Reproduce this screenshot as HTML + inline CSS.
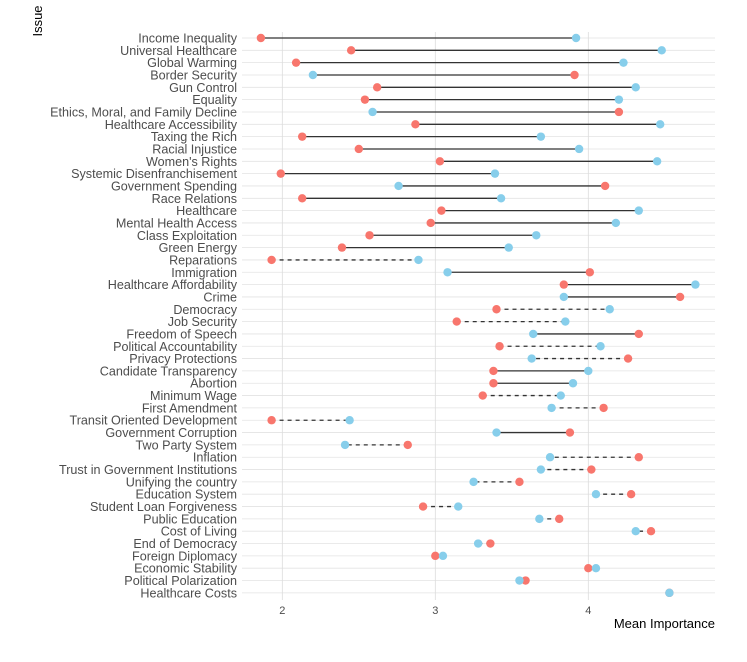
<!DOCTYPE html>
<html><head><meta charset="utf-8"><style>body{margin:0;background:#fff}svg{display:block;font-family:"Liberation Sans",sans-serif}</style></head>
<body>
<svg id="c" width="747" height="662"></svg>
<script>
const categories=["Income Inequality","Universal Healthcare","Global Warming","Border Security","Gun Control","Equality","Ethics, Moral, and Family Decline","Healthcare Accessibility","Taxing the Rich","Racial Injustice","Women's Rights","Systemic Disenfranchisement","Government Spending","Race Relations","Healthcare","Mental Health Access","Class Exploitation","Green Energy","Reparations","Immigration","Healthcare Affordability","Crime","Democracy","Job Security","Freedom of Speech","Political Accountability","Privacy Protections","Candidate Transparency","Abortion","Minimum Wage","First Amendment","Transit Oriented Development","Government Corruption","Two Party System","Inflation","Trust in Government Institutions","Unifying the country","Education System","Student Loan Forgiveness","Public Education","Cost of Living","End of Democracy","Foreign Diplomacy","Economic Stability","Political Polarization","Healthcare Costs"];
const redValues=[1.86,2.45,2.09,3.91,2.62,2.54,4.20,2.87,2.13,2.50,3.03,1.99,4.11,2.13,3.04,2.97,2.57,2.39,1.93,4.01,3.84,4.60,3.40,3.14,4.33,3.42,4.26,3.38,3.38,3.31,4.10,1.93,3.88,2.82,4.33,4.02,3.55,4.28,2.92,3.81,4.41,3.36,3.00,4.00,3.59,4.53];
const blueValues=[3.92,4.48,4.23,2.20,4.31,4.20,2.59,4.47,3.69,3.94,4.45,3.39,2.76,3.43,4.33,4.18,3.66,3.48,2.89,3.08,4.70,3.84,4.14,3.85,3.64,4.08,3.63,4.00,3.90,3.82,3.76,2.44,3.40,2.41,3.75,3.69,3.25,4.05,3.15,3.68,4.31,3.28,3.05,4.05,3.55,4.53];
const dashed=[0,0,0,0,0,0,0,0,0,0,0,0,0,0,0,0,0,0,1,0,0,0,1,1,0,1,1,0,0,1,1,1,0,1,1,1,1,1,1,1,1,1,1,1,1,1];
const xTicks=[2,3,4];
const NS="http://www.w3.org/2000/svg",svg=document.getElementById('c');
const x=v=>282.3+(v-2)*153;
const y=i=>38+i*12.33;
function mk(t,a,p){const e=document.createElementNS(NS,t);for(const k in a)e.setAttribute(k,a[k]);(p||svg).appendChild(e);return e;}
const g=mk('g',{});

categories.forEach((c,i)=>{mk('line',{x1:242,x2:715,y1:y(i),y2:y(i),stroke:'#e3e3e3','stroke-width':0.8},g);});
xTicks.forEach(t=>{mk('line',{x1:x(t),x2:x(t),y1:32,y2:600,stroke:'#dcdcdc','stroke-width':0.8},g);
const tl=mk('text',{x:x(t),y:614,'text-anchor':'middle','font-size':11,fill:'#4d4d4d'});tl.textContent=t;
});
categories.forEach((c,i)=>{
const t=mk('text',{x:237,y:y(i)+4.5,'text-anchor':'end','font-size':12.6,fill:'#4d4d4d'});t.textContent=c;

const l=mk('line',{x1:x(redValues[i]),x2:x(blueValues[i]),y1:y(i),y2:y(i),stroke:'#333','stroke-width':1.3});
if(dashed[i])l.setAttribute('stroke-dasharray','4,4');

const r=mk('circle',{cx:x(redValues[i]),cy:y(i),r:4.2,fill:'#f8766d'});

const b=mk('circle',{cx:x(blueValues[i]),cy:y(i),r:4.2,fill:'#87ceeb'});

});
const xt=mk('text',{x:715,y:628,'text-anchor':'end','font-size':13,fill:'#000'});xt.textContent='Mean Importance';

const yt=mk('text',{x:0,y:0,transform:'translate(42,21) rotate(-90)','text-anchor':'middle','font-size':13,fill:'#000'});yt.textContent='Issue';

</script>
</body></html>
